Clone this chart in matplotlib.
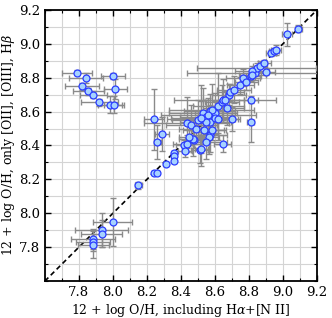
import matplotlib

matplotlib.use("Agg")
import matplotlib.pyplot as plt
import numpy as np
from matplotlib.ticker import MultipleLocator

# metallicity with H-alpha+[NII] (x) vs only [OII],[OIII],Hbeta (y)
oh_full = [
    7.79, 7.84, 8.00, 7.82, 7.855, 7.885, 8.015, 7.92, 7.985, 8.005,
    8.00, 7.935, 7.935, 7.885, 7.885, 7.885,
    8.15, 8.24, 8.26, 8.31, 8.36, 8.36, 8.36,
    8.24, 8.29, 8.26,
    8.42, 8.435, 8.425, 8.475, 8.51, 8.52, 8.435, 8.46, 8.52, 8.53,
    8.545, 8.57, 8.535, 8.57, 8.585, 8.565, 8.57, 8.545, 8.60, 8.60,
    8.615, 8.62, 8.645, 8.64, 8.65, 8.67, 8.70, 8.68, 8.69, 8.71,
    8.75, 8.765, 8.785, 8.81, 8.81, 8.81, 8.835, 8.845, 8.865, 8.89,
    8.90, 8.93, 8.945, 8.96, 9.025, 9.09, 8.82, 8.82, 8.58, 8.50,
    8.52, 8.56, 8.49, 8.47, 8.45, 8.55, 8.66,
]
oh_blue = [
    8.83, 8.80, 8.81, 8.75, 8.72, 8.70, 8.735, 8.655, 8.64, 8.64,
    7.95, 7.90, 7.88, 7.85, 7.83, 7.815,
    8.165, 8.24, 8.24, 8.29, 8.355, 8.34, 8.31,
    8.555, 8.47, 8.42,
    8.40, 8.41, 8.37, 8.435, 8.375, 8.38, 8.535, 8.52, 8.555, 8.59,
    8.57, 8.605, 8.49, 8.46, 8.49, 8.45, 8.54, 8.54, 8.59, 8.56,
    8.555, 8.63, 8.41, 8.655, 8.67, 8.62, 8.555, 8.70, 8.715, 8.73,
    8.755, 8.80, 8.775, 8.81, 8.67, 8.54, 8.825, 8.855, 8.87, 8.885,
    8.835, 8.945, 8.955, 8.965, 9.055, 9.09, 8.84, 8.815, 8.61, 8.55,
    8.56, 8.58, 8.50, 8.44, 8.45, 8.42, 8.67,
]
err_full = [
    0.09, 0.10, 0.07, 0.10, 0.09, 0.08, 0.07, 0.11, 0.07, 0.06,
    0.115, 0.155, 0.12, 0.13, 0.10, 0.09,
    0.02, 0.01, 0.01, 0.01, 0.01, 0.01, 0.01,
    0.06, 0.04, 0.02,
    0.05, 0.08, 0.04, 0.05, 0.05, 0.04, 0.25, 0.15, 0.20, 0.20,
    0.15, 0.15, 0.12, 0.10, 0.08, 0.06, 0.10, 0.15, 0.12, 0.10,
    0.12, 0.15, 0.05, 0.10, 0.12, 0.10, 0.05, 0.10, 0.08, 0.10,
    0.08, 0.10, 0.07, 0.06, 0.04, 0.02, 0.40, 0.35, 0.04, 0.04,
    0.05, 0.03, 0.03, 0.03, 0.03, 0.02, 0.10, 0.08, 0.25, 0.15,
    0.18, 0.28, 0.10, 0.08, 0.06, 0.12, 0.30,
]
err_blue = [
    0.015, 0.03, 0.02, 0.02, 0.02, 0.02, 0.06, 0.02, 0.05, 0.05,
    0.14, 0.10, 0.08, 0.06, 0.05, 0.08,
    0.02, 0.01, 0.01, 0.01, 0.01, 0.01, 0.01,
    0.18, 0.10, 0.10,
    0.03, 0.05, 0.04, 0.05, 0.08, 0.10, 0.15, 0.12, 0.20, 0.15,
    0.10, 0.10, 0.08, 0.10, 0.06, 0.10, 0.10, 0.08, 0.12, 0.10,
    0.08, 0.20, 0.05, 0.10, 0.12, 0.10, 0.07, 0.06, 0.05, 0.08,
    0.05, 0.05, 0.05, 0.03, 0.02, 0.12, 0.04, 0.03, 0.03, 0.02,
    0.02, 0.02, 0.02, 0.03, 0.07, 0.02, 0.03, 0.03, 0.15, 0.12,
    0.10, 0.10, 0.06, 0.10, 0.04, 0.10, 0.05,
]

plt.rcParams["font.family"] = "DejaVu Serif"
plt.rcParams["mathtext.fontset"] = "dejavuserif"

fig = plt.figure(figsize=(3.32, 3.18), dpi=100)
ax = fig.add_axes([0.135, 0.116, 0.820, 0.853])

lims = (7.6, 9.2)
ax.plot(lims, lims, color="black", ls=(0, (3, 2)), lw=1.2, zorder=2)
ax.errorbar(oh_full, oh_blue, xerr=err_full, yerr=err_blue, fmt="none",
            ecolor="#8a8a8a", elinewidth=1.0, capsize=2, capthick=1.0, zorder=3)
ax.plot(oh_full, oh_blue, "o", ms=5, mfc="#a6d2ff", mec="#2b3cff", mew=0.9,
        ls="none", zorder=4)

ax.set_xlim(lims)
ax.set_ylim(lims)
for axis in (ax.xaxis, ax.yaxis):
    axis.set_major_locator(MultipleLocator(0.2))
    axis.set_minor_locator(MultipleLocator(0.1))
ax.grid(True, which="both", color="#d4d4d4", lw=0.8, zorder=0)
ax.set_axisbelow(True)
ax.tick_params(which="both", direction="in", top=True, right=True, labelsize=9.5)
ax.tick_params(which="major", length=4, width=1)
ax.tick_params(which="minor", length=2.5, width=0.8)
for s in ax.spines.values():
    s.set_linewidth(1.3)

# 7.6 is not labelled in the original
ax.set_xticks(np.arange(7.8, 9.21, 0.2))
ax.set_yticks(np.arange(7.8, 9.21, 0.2))
ax.xaxis.set_major_formatter(plt.FormatStrFormatter("%.1f"))
ax.yaxis.set_major_formatter(plt.FormatStrFormatter("%.1f"))
ax.set_xlabel(r"12 + log O/H, including H$\alpha$+[N II]", fontsize=9, labelpad=2)
ax.set_ylabel(r"12 + log O/H, only [OII], [OIII], H$\beta$", fontsize=9, labelpad=1)

fig.savefig("out.png", dpi=100)
